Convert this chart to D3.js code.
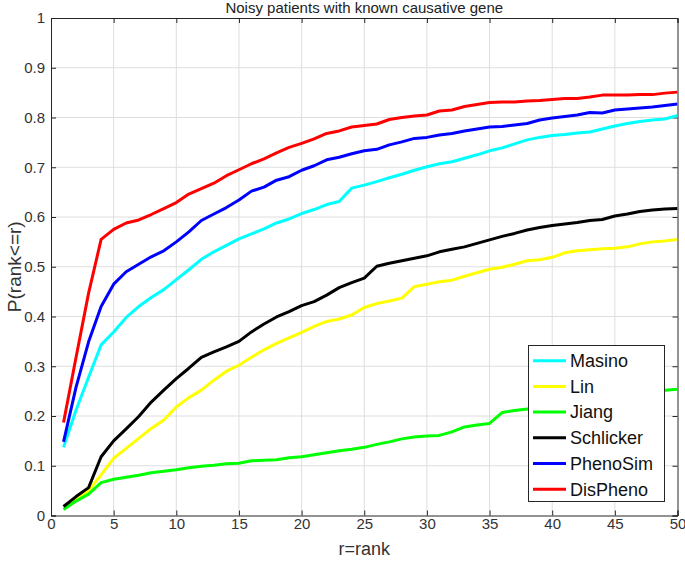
<!DOCTYPE html>
<html>
<head>
<meta charset="utf-8">
<script src="https://cdn.jsdelivr.net/npm/d3@7"></script>
<style>
  html, body { margin: 0; padding: 0; background: #fff; }
  svg { display: block; font-family: "Liberation Sans", Arial, Helvetica, sans-serif; }
</style>
</head>
<body>
<svg id="chart" width="685" height="562"></svg>
<script>
const ranks = d3.range(1, 51);
const xTicks = [0, 5, 10, 15, 20, 25, 30, 35, 40, 45, 50];
const yTicks = [0, 0.1, 0.2, 0.3, 0.4, 0.5, 0.6, 0.7, 0.8, 0.9, 1];
const seriesNames = ["Masino", "Lin", "Jiang", "Schlicker", "PhenoSim", "DisPheno"];
const seriesColors = ["#00FFFF", "#FFFF00", "#00FF00", "#000000", "#0000FF", "#FF0000"];

const masino = [0.137,0.212,0.278,0.343,0.369,0.398,0.420,0.438,0.454,0.474,
  0.494,0.515,0.530,0.543,0.556,0.566,0.576,0.588,0.596,0.607,
  0.615,0.625,0.631,0.658,0.664,0.671,0.679,0.686,0.694,0.701,
  0.707,0.711,0.718,0.725,0.733,0.739,0.747,0.755,0.760,0.764,
  0.766,0.769,0.771,0.777,0.783,0.788,0.792,0.795,0.797,0.804];
const lin = [0.014,0.032,0.050,0.082,0.115,0.135,0.155,0.175,0.192,0.218,
  0.237,0.252,0.272,0.290,0.302,0.318,0.333,0.346,0.357,0.368,
  0.380,0.390,0.395,0.403,0.418,0.426,0.431,0.437,0.460,0.465,
  0.470,0.473,0.481,0.488,0.495,0.499,0.505,0.512,0.514,0.519,
  0.528,0.532,0.534,0.536,0.537,0.540,0.546,0.550,0.552,0.555];
const jiang = [0.012,0.029,0.043,0.066,0.073,0.077,0.081,0.086,0.089,0.092,
  0.096,0.099,0.101,0.104,0.105,0.110,0.111,0.112,0.116,0.118,
  0.122,0.126,0.130,0.133,0.137,0.143,0.148,0.154,0.158,0.160,
  0.161,0.168,0.178,0.182,0.185,0.207,0.211,0.214,0.218,0.222,
  0.226,0.229,0.233,0.237,0.240,0.244,0.247,0.250,0.252,0.254];
const schlicker = [0.018,0.038,0.056,0.118,0.150,0.174,0.199,0.228,0.252,0.275,
  0.296,0.318,0.329,0.339,0.350,0.369,0.385,0.399,0.410,0.422,
  0.430,0.443,0.458,0.468,0.477,0.501,0.507,0.512,0.517,0.522,
  0.530,0.535,0.540,0.547,0.554,0.561,0.567,0.574,0.579,0.583,
  0.586,0.589,0.593,0.595,0.602,0.606,0.611,0.614,0.616,0.617];
const phenoSim = [0.148,0.258,0.349,0.420,0.465,0.490,0.505,0.520,0.532,0.550,
  0.570,0.593,0.606,0.619,0.634,0.652,0.660,0.674,0.681,0.694,
  0.703,0.715,0.720,0.727,0.733,0.736,0.745,0.751,0.758,0.760,
  0.765,0.768,0.773,0.777,0.781,0.782,0.785,0.788,0.795,0.799,
  0.802,0.805,0.810,0.809,0.815,0.817,0.819,0.821,0.824,0.827];
const disPheno = [0.187,0.318,0.447,0.555,0.575,0.588,0.594,0.605,0.617,0.629,
  0.646,0.657,0.668,0.683,0.695,0.707,0.717,0.729,0.740,0.748,
  0.757,0.768,0.773,0.781,0.784,0.787,0.796,0.800,0.803,0.805,
  0.813,0.815,0.822,0.826,0.830,0.831,0.831,0.833,0.834,0.836,
  0.838,0.838,0.841,0.845,0.845,0.845,0.846,0.846,0.849,0.851];

const seriesValues = [masino, lin, jiang, schlicker, phenoSim, disPheno];

const svg = d3.select("#chart");
const L = 51, R = 677.5, T = 18, B = 515.5;
const x = d3.scaleLinear().domain([0, 50]).range([L, R]);
const y = d3.scaleLinear().domain([0, 1]).range([B, T]);
const axisColor = "#262626";
const gridColor = "#dedede";

// grid
const grid = svg.append("g");
grid.selectAll("line.gx").data(xTicks.slice(1, -1)).join("line")
  .attr("x1", d => x(d)).attr("x2", d => x(d)).attr("y1", T).attr("y2", B)
  .attr("stroke", gridColor).attr("stroke-width", 1);
grid.selectAll("line.gy").data(yTicks.slice(1, -1)).join("line")
  .attr("y1", d => y(d)).attr("y2", d => y(d)).attr("x1", L).attr("x2", R)
  .attr("stroke", gridColor).attr("stroke-width", 1);

// axes
const fmt = d => d === 0 ? "0" : d === 1 ? "1" : d3.format(".1f")(d);
const xAxis = svg.append("g").attr("transform", `translate(0,${B})`)
  .call(d3.axisBottom(x).tickValues(xTicks).tickSize(-5).tickPadding(3).tickFormat(d3.format("d")));
const xAxisTop = svg.append("g").attr("transform", `translate(0,${T})`)
  .call(d3.axisTop(x).tickValues(xTicks).tickSize(-5).tickFormat(""));
const yAxis = svg.append("g").attr("transform", `translate(${L},0)`)
  .call(d3.axisLeft(y).tickValues(yTicks).tickSize(-5).tickPadding(6).tickFormat(fmt));
const yAxisRight = svg.append("g").attr("transform", `translate(${R},0)`)
  .call(d3.axisRight(y).tickValues(yTicks).tickSize(-5).tickFormat(""));
[xAxis, xAxisTop, yAxis, yAxisRight].forEach(g => {
  g.select(".domain").attr("stroke", axisColor).attr("stroke-width", 1);
  g.selectAll(".tick line").attr("stroke", axisColor).attr("stroke-width", 1);
  g.selectAll(".tick text").attr("fill", "#333").style("font-size", "15px")
    .style("font-family", '"Liberation Sans", Arial, sans-serif');
});

// lines
const line = d3.line().x((d, i) => x(ranks[i])).y(d => y(d));
svg.append("clipPath").attr("id", "clip").append("rect")
  .attr("x", L).attr("y", T).attr("width", R - L).attr("height", B - T);
svg.append("g").attr("clip-path", "url(#clip)")
  .selectAll("path").data(seriesValues).join("path")
  .attr("d", d => line(d))
  .attr("fill", "none")
  .attr("stroke", (d, i) => seriesColors[i])
  .attr("stroke-width", 3)
  .attr("stroke-linejoin", "round");

// title & labels
svg.append("text").attr("x", (L + R) / 2).attr("y", 13).attr("text-anchor", "middle")
  .style("font-size", "15px").attr("fill", "#222").text("Noisy patients with known causative gene");
svg.append("text").attr("x", (L + R) / 2).attr("y", 555).attr("text-anchor", "middle")
  .style("font-size", "18px").attr("fill", "#333").text("r=rank");
svg.append("text").attr("transform", `translate(21,${(T + B) / 2}) rotate(-90)`)
  .attr("text-anchor", "middle").style("font-size", "19px").attr("fill", "#333").text("P(rank<=r)");

// legend
const lg = svg.append("g");
lg.append("rect").attr("x", 528.5).attr("y", 345.5).attr("width", 136).attr("height", 156)
  .attr("fill", "#fff").attr("stroke", axisColor).attr("stroke-width", 1);
const rows = lg.selectAll("g.row").data(seriesNames).join("g")
  .attr("transform", (d, i) => `translate(0,${360.7 + i * 25.7})`);
rows.append("line").attr("x1", 533).attr("x2", 566).attr("y1", 0).attr("y2", 0)
  .attr("stroke", (d, i) => seriesColors[i]).attr("stroke-width", 3);
rows.append("text").attr("x", 570).attr("y", 0).attr("dy", "0.35em")
  .style("font-size", "18px").attr("fill", "#111").text(d => d);
</script>
</body>
</html>
